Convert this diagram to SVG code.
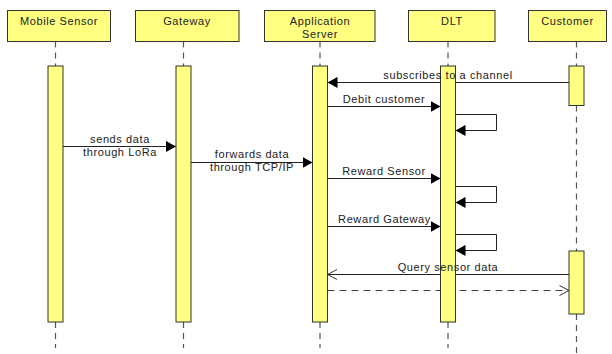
<svg xmlns="http://www.w3.org/2000/svg" width="612" height="354" viewBox="0 0 612 354">
<defs>
<marker id="filled" markerUnits="userSpaceOnUse" markerWidth="11" markerHeight="11" refX="10" refY="5.5" orient="auto">
<path d="M0,0 L10,5.5 L0,11 z" fill="#000"/>
</marker>
<marker id="open" markerUnits="userSpaceOnUse" markerWidth="11" markerHeight="12" refX="10" refY="6" orient="auto">
<path d="M0.5,1 L10,6 L0.5,11" fill="none" stroke="#333" stroke-width="1"/>
</marker>
</defs>
<style>
.head{fill:#ffff80;stroke:#333;stroke-width:1}
.bar{fill:#ffff80;stroke:#333;stroke-width:1}
.life{stroke:#555;stroke-width:1.2;stroke-dasharray:6,5;fill:none}
text{font-family:"Liberation Sans",Arial,sans-serif;font-size:11px;letter-spacing:0.6px;fill:#222;text-anchor:middle}
.msg{stroke:#222;stroke-width:1;fill:none}
.sync{marker-end:url(#filled)}
.reply{stroke:#444;stroke-dasharray:7,5;marker-end:url(#open)}
</style>
<rect width="612" height="354" fill="#fff"/>
<g id="connectors-lines">
<line class="msg sync" x1="569" y1="82.5" x2="327.5" y2="82.5"/>
<line class="msg sync" x1="327.5" y1="106.5" x2="440.5" y2="106.5"/>
<path class="msg sync" d="M455.5,114.5 H496.5 V130.5 H455.5"/>
<line class="msg sync" x1="63" y1="146.5" x2="176" y2="146.5"/>
<line class="msg sync" x1="191" y1="162.5" x2="312.5" y2="162.5"/>
<line class="msg sync" x1="327.5" y1="178.5" x2="440.5" y2="178.5"/>
<path class="msg sync" d="M455.5,186.5 H496.5 V202.5 H455.5"/>
<line class="msg sync" x1="327.5" y1="226.5" x2="440.5" y2="226.5"/>
<path class="msg sync" d="M455.5,234.5 H496.5 V250.5 H455.5"/>
<line class="msg" x1="569" y1="274.5" x2="327.5" y2="274.5" stroke="#333" marker-end="url(#open)"/>
<line class="msg reply" x1="327.5" y1="290.5" x2="569" y2="290.5"/>
</g>
<g id="mobile-sensor">
<line class="life" x1="55.5" y1="41.5" x2="55.5" y2="66"/>
<line class="life" x1="55.5" y1="322" x2="55.5" y2="348"/>
<rect class="head" x="7.5" y="10.5" width="103" height="31"/>
<text x="59" y="25">Mobile Sensor</text>
<rect class="bar" x="48" y="66" width="15" height="256"/>
</g>
<g id="gateway">
<line class="life" x1="183.5" y1="41.5" x2="183.5" y2="66"/>
<line class="life" x1="183.5" y1="322" x2="183.5" y2="348"/>
<rect class="head" x="135.5" y="10.5" width="103.5" height="31"/>
<text x="187" y="25">Gateway</text>
<rect class="bar" x="176" y="66" width="15" height="256"/>
</g>
<g id="application-server">
<line class="life" x1="320" y1="41.5" x2="320" y2="66"/>
<line class="life" x1="320" y1="322" x2="320" y2="348"/>
<rect class="head" x="264.5" y="10.5" width="110.5" height="31"/>
<text x="320" y="25">Application</text>
<text x="320" y="37.5">Server</text>
<rect class="bar" x="312.5" y="66" width="15" height="256"/>
</g>
<g id="dlt">
<line class="life" x1="448" y1="41.5" x2="448" y2="66"/>
<line class="life" x1="448" y1="322" x2="448" y2="348"/>
<rect class="head" x="408.5" y="10.5" width="86.5" height="31"/>
<text x="452" y="25">DLT</text>
<rect class="bar" x="440.5" y="66" width="15" height="256"/>
</g>
<g id="customer">
<line class="life" x1="576.5" y1="41.5" x2="576.5" y2="66"/>
<line class="life" x1="576.5" y1="105.5" x2="576.5" y2="251"/>
<line class="life" x1="576.5" y1="314" x2="576.5" y2="354"/>
<rect class="head" x="528.5" y="10.5" width="78" height="31"/>
<text x="567.5" y="25">Customer</text>
<rect class="bar" x="569" y="66" width="15" height="39.5"/>
<rect class="bar" x="569" y="251" width="15" height="63"/>
</g>
<g id="connector-labels">
<text x="448" y="79">subscribes to a channel</text>
<text x="384" y="103">Debit customer</text>
<text x="120" y="142.5">sends data</text>
<text x="120" y="155.5">through LoRa</text>
<text x="252" y="158">forwards data</text>
<text x="252" y="171">through TCP/IP</text>
<text x="384" y="175">Reward Sensor</text>
<text x="384.5" y="223">Reward Gateway</text>
<text x="448" y="271">Query sensor data</text>
</g>
</svg>
